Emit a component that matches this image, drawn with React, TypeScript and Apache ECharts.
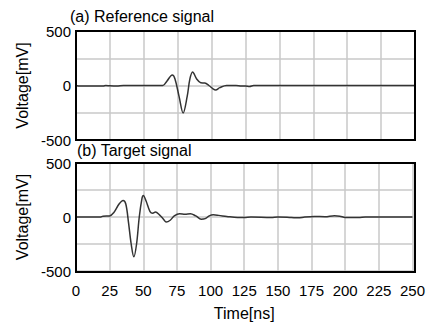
import React, { useEffect, useRef } from "react";
import * as echarts from "echarts";

const refTimes = [0, 3, 10, 20, 22, 25, 30, 35, 64, 67, 71, 73, 76, 79, 82, 84, 86, 89, 92, 95, 98, 101, 103, 106, 111, 118, 122, 125, 128, 131, 250];
const refValues = [0, -5, -5, -5, 0, -3, -5, 0, 0, 40, 96, 60, -100, -252, -100, 60, 124, 60, 25, 23, 0, -30, -41, -20, 0, 0, -5, -5, -10, 0, 0];

const tgtTimes = [0, 18, 20, 25, 28, 32, 35, 37, 39, 41, 43, 45, 47, 49, 50, 52, 55, 57, 59, 62, 65, 67, 70, 73, 77, 81, 85, 89, 93, 96, 99, 102, 106, 112, 120, 125, 130, 145, 150, 160, 165, 170, 177, 185, 192, 196, 200, 210, 215, 250];
const tgtValues = [0, 0, 8, 10, 40, 120, 153, 120, -50, -250, -369, -250, 0, 170, 199, 150, 50, 35, 46, 20, -20, -46, -30, 10, 30, 25, 30, 10, -20, -15, 10, 20, 15, 5, -5, -5, 0, -5, 0, -5, -8, 0, 5, 2, 12, 8, -5, -5, 0, 0];

const titles = ["(a) Reference signal", "(b) Target signal"];
const yLabel = "Voltage[mV]";
const xLabel = "Time[ns]";

const FONT = "Arial, 'Liberation Sans', sans-serif";

const GRIDS = [
  { left: 76, top: 31, width: 339, height: 109 },
  { left: 76, top: 163, width: 339, height: 109 },
];

export default function App() {
  const ref = useRef<HTMLDivElement>(null);
  useEffect(() => {
    if (!ref.current) return;
    const chart = echarts.init(ref.current, null, { renderer: "svg" });
    const mkX = (gi: number, showLabels: boolean) => ({
      type: "value",
      gridIndex: gi,
      min: 0,
      max: 250,
      interval: 25,
      axisLine: { show: false },
      axisTick: { show: false },
      axisLabel: { show: showLabels, color: "#000", fontSize: 15, fontFamily: FONT, margin: 12 },
      splitLine: { show: true, lineStyle: { color: "#c8c8c8", width: 1.5 } },
      name: showLabels ? xLabel : "",
      nameLocation: "middle",
      nameGap: 34,
      nameTextStyle: { color: "#000", fontSize: 16, fontFamily: FONT },
    });
    const mkY = (gi: number) => ({
      type: "value",
      gridIndex: gi,
      min: -500,
      max: 500,
      interval: 250,
      axisLine: { show: false },
      axisTick: { show: false },
      axisLabel: {
        color: "#000",
        fontSize: 15,
        fontFamily: FONT,
        margin: 5,
        formatter: (v: number) => (v % 500 === 0 ? String(v) : ""),
      },
      splitLine: { show: true, lineStyle: { color: "#c8c8c8", width: 1.5 } },
      name: yLabel,
      nameLocation: "middle",
      nameGap: 45,
      nameTextStyle: { color: "#000", fontSize: 16, fontFamily: FONT },
    });
    const mkData = (t: number[], v: number[]) => t.map((x, i) => [x, v[i]]);
    chart.setOption({
      animation: false,
      backgroundColor: "#fff",
      grid: GRIDS.map((g) => ({ ...g, show: false })),
      xAxis: [mkX(0, false), mkX(1, true)],
      yAxis: [mkY(0), mkY(1)],
      graphic: [
        { type: "text", left: 70, top: 8, style: { text: titles[0], fill: "#000", font: `16px ${FONT}` } },
        { type: "text", left: 77, top: 142, style: { text: titles[1], fill: "#000", font: `16px ${FONT}` } },
        ...GRIDS.map((g) => ({
          type: "rect",
          z: 100,
          shape: { x: g.left, y: g.top, width: g.width, height: g.height },
          style: { fill: "none", stroke: "#000", lineWidth: 2 },
        })),
      ],
      series: [
        {
          type: "line",
          xAxisIndex: 0,
          yAxisIndex: 0,
          data: mkData(refTimes, refValues),
          smooth: 0.35,
          showSymbol: false,
          lineStyle: { color: "#333", width: 1.5 },
        },
        {
          type: "line",
          xAxisIndex: 1,
          yAxisIndex: 1,
          data: mkData(tgtTimes, tgtValues),
          smooth: 0.35,
          showSymbol: false,
          lineStyle: { color: "#333", width: 1.5 },
        },
      ],
    });
    return () => chart.dispose();
  }, []);
  return <div ref={ref} style={{ position: "absolute", left: 0, top: 0, width: 428, height: 322 }} />;
}
